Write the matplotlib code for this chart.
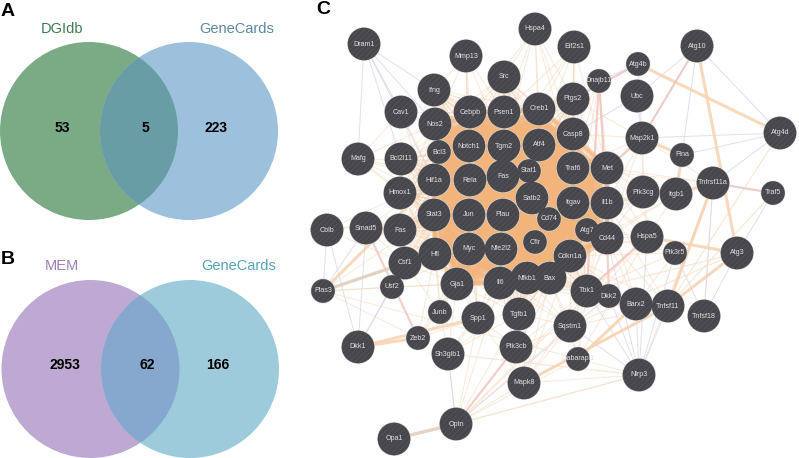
import matplotlib
matplotlib.use('Agg')
import matplotlib.pyplot as plt
from matplotlib.patches import Circle

plt.rcParams['font.family'] = ['Liberation Sans', 'DejaVu Sans']

# venn panels
venn_a_names = ['DGIdb', 'GeneCards']
venn_a_counts = [53, 5, 223]
venn_b_names = ['MEM', 'GeneCards']
venn_b_counts = [2953, 62, 166]

# network nodes: name, x, y (pixels of the figure)
node_names = ['Dram1', 'Mmp13', 'Hspa4', 'Src', 'Ifng', 'Cav1', 'Cebpb', 'Psen1', 'Creb1', 'Nos2',
              'Notch1', 'Tgm2', 'Atf4', 'Bcl3', 'Mafg', 'Bcl2l11', 'Hif1a', 'Rela', 'Fas', 'Stat1',
              'Satb2', 'Hmox1', 'Stat3', 'Jun', 'Plau', 'Cd74', 'Cflr', 'Cblb', 'Smad5', 'Fas ',
              'Eif2s1', 'Dnajb11', 'Atg4b', 'Atg10', 'Ubc', 'Ptgs2', 'Casp8', 'Map2k1', 'Flna', 'Atg4d',
              'Traf6', 'Met', 'Pik3cg', 'Itgb1', 'Tnfrsf11a', 'Traf5', 'Itgav', 'Il1b', 'Atg7', 'Cd44',
              'Hspa5', 'Pik3r5', 'Atg3', 'Cdkn1a', 'Tbk1', 'Dkk2', 'Barx2', 'Tnfsf11', 'Tnfsf18', 'Sqstm1',
              'Gabarapl1', 'Nlrp3', 'Bax', 'Csf1', 'Hfl', 'Myc', 'Nfe2l2', 'Gja1', 'Il6', 'Nfkb1',
              'Plas3', 'Usf2', 'Junb', 'Spp1', 'Tgfb1', 'Dkk1', 'Zeb2', 'Sh3glb1', 'Pik3cb', 'Mapk8',
              'Optn', 'Opa1']
node_x = [364, 466, 535, 504, 434, 401, 470, 504, 539, 435,
          469, 504, 539, 439, 358, 401, 434, 470, 503, 529,
          532, 400, 434, 469, 503, 549, 535, 327, 366, 400,
          574, 599, 638, 697, 637, 573, 573, 642, 682, 780,
          573, 607, 643, 676, 713, 773, 573, 607, 587, 607,
          647, 675, 737, 570, 587, 609, 636, 668, 704, 570,
          578, 639, 550, 405, 435, 469, 501, 457, 500, 527,
          323, 392, 440, 478, 519, 358, 418, 448, 516, 524,
          456, 394]
node_y = [44, 56, 29, 77, 90, 112, 112, 112, 109, 124,
          146, 146, 145, 152, 159, 159, 180, 180, 176, 171,
          198, 193, 215, 215, 215, 219, 242, 230, 228, 230,
          47, 81, 64, 46, 96, 99, 134, 138, 155, 133,
          168, 168, 192, 194, 183, 193, 203, 203, 230, 238,
          237, 253, 253, 256, 291, 296, 304, 306, 316, 326,
          359, 375, 278, 263, 254, 249, 249, 284, 283, 278,
          291, 287, 312, 318, 314, 347, 338, 354, 347, 383,
          424, 439]
small_nodes = ['Bcl3', 'Stat1', 'Cd74', 'Cflr', 'Dnajb11', 'Atg4b', 'Flna', 'Traf5', 'Atg7',
               'Pik3r5', 'Dkk2', 'Gabarapl1', 'Plas3', 'Usf2', 'Junb', 'Zeb2']

# dense centre of the network
core = ['Cebpb', 'Psen1', 'Creb1', 'Nos2', 'Notch1', 'Tgm2', 'Atf4', 'Bcl3', 'Hif1a', 'Rela',
        'Fas', 'Stat1', 'Satb2', 'Stat3', 'Jun', 'Plau', 'Cd74', 'Cflr', 'Hfl', 'Myc', 'Nfe2l2',
        'Gja1', 'Il6', 'Nfkb1', 'Bax', 'Casp8', 'Traf6', 'Met', 'Itgav', 'Il1b', 'Atg7', 'Cd44',
        'Cdkn1a']
core_rim = ['Ifng', 'Src', 'Bcl2l11', 'Hmox1', 'Fas ', 'Csf1', 'Tgfb1', 'Ptgs2', 'Tbk1']

# links from the outer nodes into the centre
pale_links = {
    'Mmp13': ['Ifng', 'Cebpb', 'Psen1', 'Notch1', 'Nos2', 'Tgm2', 'Rela', 'Jun'],
    'Hspa4': ['Psen1', 'Creb1', 'Atf4', 'Tgm2', 'Src', 'Casp8', 'Ptgs2', 'Traf6', 'Cebpb'],
    'Eif2s1': ['Creb1', 'Atf4', 'Ptgs2', 'Casp8', 'Traf6', 'Psen1', 'Tgm2', 'Itgav', 'Met'],
    'Dnajb11': ['Ptgs2', 'Casp8', 'Met', 'Il1b', 'Traf6', 'Cd44', 'Cdkn1a', 'Tbk1'],
    'Mafg': ['Nos2', 'Hmox1', 'Bcl2l11', 'Hif1a', 'Stat3', 'Jun', 'Rela', 'Cav1'],
    'Cav1': ['Nos2', 'Notch1', 'Hif1a', 'Cebpb', 'Stat3'],
    'Map2k1': ['Met', 'Il1b', 'Casp8', 'Traf6', 'Itgav', 'Pik3cg', 'Ptgs2', 'Cd44', 'Hspa5'],
    'Pik3cg': ['Met', 'Il1b', 'Cd44', 'Itgav', 'Atg7', 'Cdkn1a'],
    'Itgb1': ['Met', 'Il1b', 'Cd44', 'Itgav', 'Hspa5', 'Plau', 'Cdkn1a'],
    'Hspa5': ['Il1b', 'Cd44', 'Cdkn1a', 'Tbk1', 'Met', 'Atg7', 'Sqstm1'],
    'Pik3r5': ['Cd44', 'Il1b', 'Cdkn1a', 'Tbk1', 'Barx2', 'Met'],
    'Barx2': ['Cdkn1a', 'Cd44', 'Il1b', 'Tbk1', 'Nfkb1', 'Bax', 'Il6', 'Myc'],
    'Tnfsf11': ['Cd44', 'Il1b', 'Tbk1', 'Cdkn1a', 'Sqstm1', 'Mapk8', 'Nfkb1'],
    'Sqstm1': ['Cdkn1a', 'Nfkb1', 'Bax', 'Il6', 'Tbk1', 'Myc', 'Tgfb1', 'Cd44'],
    'Spp1': ['Il6', 'Gja1', 'Myc', 'Nfkb1', 'Jun', 'Rela', 'Stat3', 'Nfe2l2'],
    'Junb': ['Hfl', 'Gja1', 'Myc', 'Jun', 'Stat3', 'Csf1'],
    'Pik3cb': ['Tgfb1', 'Il6', 'Nfkb1', 'Bax', 'Cdkn1a', 'Tbk1', 'Sqstm1', 'Spp1'],
    'Mapk8': ['Tgfb1', 'Il6', 'Nfkb1', 'Bax', 'Sqstm1', 'Cdkn1a', 'Spp1', 'Tbk1'],
    'Sh3glb1': ['Gja1', 'Spp1', 'Tgfb1', 'Il6', 'Junb', 'Bax'],
    'Zeb2': ['Gja1', 'Spp1', 'Hfl', 'Myc', 'Junb'],
    'Optn': ['Tgfb1', 'Pik3cb', 'Spp1', 'Il6', 'Tbk1', 'Sqstm1', 'Sh3glb1', 'Mapk8', 'Gabarapl1'],
    'Smad5': ['Stat3', 'Hif1a', 'Jun', 'Csf1', 'Hfl'],
    'Usf2': ['Hfl', 'Gja1', 'Myc', 'Csf1'],
    'Plas3': ['Csf1', 'Hfl', 'Stat3', 'Gja1', 'Nlrp3', 'Usf2', 'Zeb2'],
    'Cblb': ['Stat3', 'Hif1a', 'Jun', 'Csf1'],
    'Gabarapl1': ['Tbk1', 'Sqstm1', 'Bax', 'Atg7', 'Hspa5', 'Barx2'],
    'Tnfrsf11a': ['Il1b', 'Met', 'Traf6', 'Map2k1', 'Tnfsf11', 'Tnfsf18', 'Nlrp3'],
    'Nlrp3': ['Mapk8', 'Optn'],
}
lilac_links = [('Dram1', 'Cav1'), ('Dram1', 'Ifng'), ('Dram1', 'Nos2'), ('Dram1', 'Bcl2l11'), ('Dram1', 'Mafg'),
               ('Dram1', 'Hif1a'), ('Atg10', 'Ubc'), ('Atg10', 'Flna'), ('Atg10', 'Map2k1'), ('Atg10', 'Atg4d'),
               ('Atg4b', 'Dnajb11'), ('Atg4b', 'Ptgs2'), ('Atg4b', 'Map2k1'), ('Ubc', 'Map2k1'), ('Ubc', 'Casp8'),
               ('Map2k1', 'Atg4d'), ('Flna', 'Atg4d'), ('Nlrp3', 'Pik3r5'), ('Nlrp3', 'Tnfsf11'), ('Nlrp3', 'Barx2'),
               ('Nlrp3', 'Sqstm1'), ('Nlrp3', 'Tbk1'), ('Nlrp3', 'Hspa5'), ('Nlrp3', 'Dkk2'), ('Nlrp3', 'Cd44'),
               ('Dkk1', 'Usf2'), ('Dkk1', 'Cblb'), ('Dkk1', 'Smad5'), ('Dkk1', 'Csf1'), ('Plas3', 'Cblb'),
               ('Plas3', 'Smad5'), ('Tnfsf18', 'Pik3r5'), ('Tnfsf18', 'Tnfrsf11a'), ('Traf5', 'Tnfrsf11a'),
               ('Traf5', 'Atg3'), ('Atg4d', 'Tnfrsf11a'), ('Atg3', 'Tnfsf18'), ('Optn', 'Sh3glb1'), ('Optn', 'Dkk2')]
thick_links = [('Atg10', 'Atg3'), ('Atg4b', 'Atg4d'), ('Map2k1', 'Flna'), ('Flna', 'Itgb1'), ('Hspa5', 'Atg3'),
               ('Itgb1', 'Tnfrsf11a'), ('Atg3', 'Tnfsf11'), ('Barx2', 'Gabarapl1'), ('Dkk1', 'Zeb2'), ('Dkk1', 'Spp1'),
               ('Plas3', 'Hif1a'), ('Tnfsf11', 'Mapk8'), ('Tnfrsf11a', 'Tnfsf11')]
pink_links = [('Smad5', 'Zeb2'), ('Tnfrsf11a', 'Traf5'), ('Dnajb11', 'Il1b'), ('Dnajb11', 'Tbk1'), ('Map2k1', 'Met'),
              ('Atg10', 'Map2k1'), ('Atg4b', 'Ptgs2'), ('Optn', 'Pik3cb'), ('Cd44', 'Dkk2'), ('Hspa5', 'Tbk1')]
tan_links = [('Opa1', 'Optn'), ('Plas3', 'Csf1')]
faint_links = [('Optn', 'Nlrp3'), ('Optn', 'Hspa5'), ('Atg3', 'Sqstm1'), ('Atg3', 'Tbk1'), ('Atg4d', 'Tnfsf11'),
               ('Traf5', 'Tnfsf11'), ('Nlrp3', 'Sh3glb1')]


def draw_venn(ax, cx, cy, names, counts, fills, name_colors, name_x, name_y, count_x, count_y):
    ax.add_patch(Circle((cx[0], cy), 89, fc=fills[0], ec='none', zorder=1))
    right = Circle((cx[1], cy), 89, fc=fills[1], ec='none', zorder=2)
    ax.add_patch(right)
    # overlap: left circle again, clipped to the right one
    both = Circle((cx[0], cy), 89, fc=fills[2], ec='none', zorder=3)
    ax.add_patch(both)
    both.set_clip_path(right)
    for i in range(2):
        ax.text(name_x[i], name_y, names[i], color=name_colors[i], fontsize=10.5,
                ha='center', va='center')
    for i in range(3):
        ax.text(count_x[i], count_y, str(counts[i]), fontsize=10, fontweight='bold',
                ha='center', va='center', zorder=4)


fig = plt.figure(figsize=(7.99, 4.58), dpi=100)
ax = fig.add_axes([0, 0, 1, 1])
ax.set_xlim(0, 799)
ax.set_ylim(458, 0)
ax.axis('off')

draw_venn(ax, [89, 189], 131, venn_a_names, venn_a_counts, ['#7bab85', '#9dc0dc', '#699da6'],
          ['#3f7a52', '#5d87a8'], [62, 237], 29, [62, 145, 216], 128)
draw_venn(ax, [90.5, 190], 369, venn_b_names, venn_b_counts, ['#bda9d1', '#9dcbdc', '#86a8cf'],
          ['#9a7fb8', '#55a5bf'], [62, 239], 266, [65, 147, 218], 365)

ax.text(8, 11, 'A', fontsize=14, fontweight='bold', ha='center', va='center')
ax.text(8, 259, 'B', fontsize=14, fontweight='bold', ha='center', va='center')
ax.text(323, 10, 'C', fontsize=14, fontweight='bold', ha='center', va='center')

pos = {n: (x, y) for n, x, y in zip(node_names, node_x, node_y)}


def draw_links(pairs, color, lw, alpha, z):
    for a, b in pairs:
        ax.plot([pos[a][0], pos[b][0]], [pos[a][1], pos[b][1]], color=color, lw=lw,
                alpha=alpha, zorder=z, solid_capstyle='butt')


core_pairs = [(a, b) for i, a in enumerate(core) for b in core[i + 1:]]
draw_links(core_pairs, '#f3b47c', 3.0, 0.6, 4)
rim_pairs = [(a, b) for a in core_rim for b in core]
draw_links(rim_pairs, '#f5cba6', 0.7, 0.4, 3.5)
pale_pairs = [(a, b) for a, targets in pale_links.items() for b in targets]
draw_links(pale_pairs, '#f5d3b6', 0.7, 0.5, 3)
draw_links(lilac_links, '#d5d1e6', 0.7, 0.7, 3)
draw_links(faint_links, '#f7e3d0', 0.9, 0.8, 3)
draw_links(thick_links, '#f7d3b2', 2.2, 0.85, 3.2)
draw_links(pink_links, '#eec0b8', 1.6, 0.7, 3.3)
draw_links(tan_links, '#e0d0be', 2.4, 0.9, 3.3)

plt.rcParams['hatch.linewidth'] = 0.4
for name in node_names:
    r = 11.8 if name in small_nodes else 16.3
    ax.add_patch(Circle(pos[name], r + 0.6, fc='#d9d9d9', ec='none', zorder=7))
    ax.add_patch(Circle(pos[name], r, fc='#47474b', ec='#5a5a5e', lw=0, hatch='//////', zorder=8))
    ax.text(pos[name][0], pos[name][1], name.strip(), color='#e2e2e2', fontsize=5.1,
            ha='center', va='center', zorder=9)

fig.savefig('out.png', dpi=100)
